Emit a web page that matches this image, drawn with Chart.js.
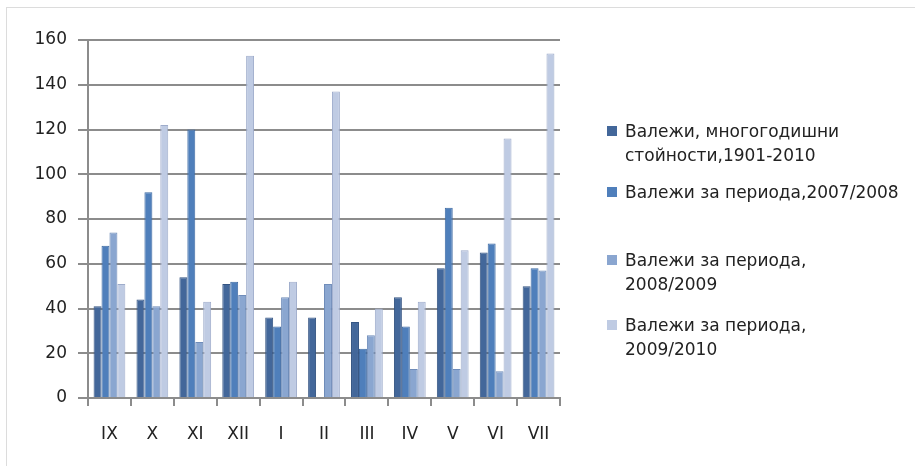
<!DOCTYPE html>
<html>
<head>
<meta charset="utf-8">
<script src="https://cdn.jsdelivr.net/npm/chart.js@4.4.1/dist/chart.umd.min.js"></script>
<style>
  html, body { margin: 0; padding: 0; background: #ffffff; }
  #wrap { position: relative; width: 915px; height: 466px; overflow: hidden; }
  #frame { position: absolute; left: 6px; top: 7px; width: 1000px; height: 1000px;
           border-left: 1px solid #dcdcdc; border-top: 1px solid #dcdcdc; }
  #chart { position: absolute; left: 0; top: 0; }
  .legend { position: absolute; left: 607px; font-family: "DejaVu Sans", sans-serif;
            font-size: 17px; color: #222; line-height: 24px; }
  .legend .item { position: absolute; left: 0; white-space: nowrap; padding-left: 18px; }
  .legend .sw { position: absolute; left: 0; top: 7px; width: 10px; height: 10px; }
</style>
</head>
<body>
<div id="wrap">
  <div id="frame"></div>
  <canvas id="chart" width="915" height="466"></canvas>
  <div class="legend" id="legend"></div>
</div>
<script>
// месеци от хидрологичната година
const months = ['IX', 'X', 'XI', 'XII', 'I', 'II', 'III', 'IV', 'V', 'VI', 'VII'];

// валежи по серии (mm)
const norm1901 = [41, 44, 54, 51, 36, 36, 34, 45, 58, 65, 50];
const rain2007 = [68, 92, 120, 52, 32, 0.5, 22, 32, 85, 69, 58];
const rain2008 = [74, 41, 25, 46, 45, 51, 28, 13, 13, 12, 57];
const rain2009 = [51, 122, 43, 153, 52, 137, 40, 43, 66, 116, 154];

const seriesNames = [
    ['Валежи, многогодишни', 'стойности,1901-2010'],
    ['Валежи за периода,2007/2008'],
    ['Валежи за периода,', '2008/2009'],
    ['Валежи за периода,', '2009/2010']
];
const seriesColors = ['#43679a', '#4f7fbb', '#8aa6d0', '#bfcbe3'];
const seriesBorders = ['#345482', '#3d6aa3', '#6f8cb9', '#9eaccb'];

const yTicks = [0, 20, 40, 60, 80, 100, 120, 140, 160];

const font = '"DejaVu Sans", sans-serif';

const values = [norm1901, rain2007, rain2008, rain2009];

const ctx = document.getElementById('chart');
const chart = new Chart(ctx, {
    type: 'bar',
    data: {
        labels: months,
        datasets: values.map((v, i) => ({
            label: seriesNames[i].join(' '),
            data: v,
            backgroundColor: seriesColors[i],
            borderColor: seriesBorders[i],
            borderWidth: 1,
            borderSkipped: 'bottom',
            categoryPercentage: 0.74,
            barPercentage: 1.0
        }))
    },
    options: {
        responsive: false,
        animation: false,
        layout: {
            padding: { top: 40, right: 355, bottom: 0, left: 0 }
        },
        plugins: {
            legend: { display: false },
            tooltip: { enabled: false }
        },
        scales: {
            x: {
                grid: {
                    display: true,
                    drawOnChartArea: false,
                    offset: true,
                    tickLength: 8,
                    color: '#8c8c8c',
                    lineWidth: 2
                },
                border: { display: true, color: '#8c8c8c', width: 2 },
                ticks: {
                    color: '#222',
                    padding: 18,
                    font: { family: font, size: 17 }
                },
                afterFit: function(scale) {
                    scale.height = 68;
                }
            },
            y: {
                min: 0,
                max: 160,
                afterBuildTicks: function(scale) {
                    scale.ticks = yTicks.map(v => ({ value: v }));
                },
                grid: {
                    color: '#8c8c8c',
                    lineWidth: 2,
                    tickLength: 10
                },
                border: { display: true, color: '#8c8c8c', width: 2 },
                ticks: {
                    color: '#222',
                    padding: 11,
                    font: { family: font, size: 17 }
                },
                afterFit: function(scale) {
                    scale.width = 88;
                }
            }
        }
    }
});

// легенда вдясно, с пренасяне на текста както в оригинала
const legendTops = [119, 180, 248, 313];
const legendEl = document.getElementById('legend');
seriesNames.forEach((lines, i) => {
    const item = document.createElement('div');
    item.className = 'item';
    item.style.top = legendTops[i] + 'px';
    const sw = document.createElement('span');
    sw.className = 'sw';
    sw.style.background = seriesColors[i];
    item.appendChild(sw);
    item.insertAdjacentHTML('beforeend', lines.join('<br>'));
    legendEl.appendChild(item);
});
</script>
</body>
</html>
